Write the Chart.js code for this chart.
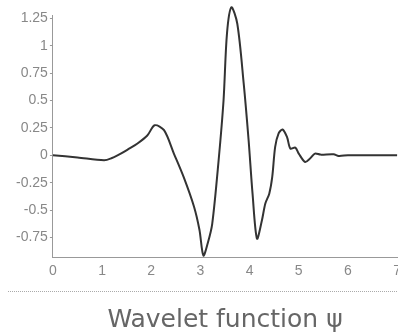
<!DOCTYPE html>
<html>
<head>
<meta charset="utf-8">
<script src="https://cdn.jsdelivr.net/npm/chart.js@4.4.1/dist/chart.umd.min.js"></script>
<style>
html,body{margin:0;padding:0;background:#fff;overflow:hidden;}
canvas{display:block;}
</style>
</head>
<body>
<canvas id="chart" width="407" height="335"></canvas>
<script>
// psi(x)
const xs = [0, 0.5, 1.04, 1.2, 1.38, 1.55, 1.72, 1.92, 2.07, 2.26, 2.46, 2.66, 2.87, 2.98, 3.06, 3.15, 3.24, 3.37, 3.47, 3.54, 3.63, 3.75, 3.88, 3.98, 4.06, 4.15, 4.25, 4.32, 4.40, 4.46, 4.52, 4.59, 4.67, 4.76, 4.83, 4.93, 5.0, 5.13, 5.23, 5.33, 5.44, 5.71, 5.81, 6, 6.5, 7];
const psi = [0, -0.02, -0.046, -0.025, 0.015, 0.06, 0.107, 0.18, 0.274, 0.229, 0.016, -0.2, -0.47, -0.68, -0.915, -0.8, -0.625, -0.046, 0.5, 1.11, 1.35, 1.2, 0.656, 0.137, -0.35, -0.76, -0.595, -0.44, -0.35, -0.2, 0.076, 0.2, 0.235, 0.167, 0.061, 0.07, 0.015, -0.061, -0.03, 0.015, 0.006, 0.009, -0.006, 0, 0, 0];
const xTicks = [0, 1, 2, 3, 4, 5, 6, 7];
const yTicks = [-0.75, -0.5, -0.25, 0, 0.25, 0.5, 0.75, 1, 1.25];

const points = xs.map((x, i) => ({x: x, y: psi[i]}));

const separator = {
    id: 'separator',
    afterDraw(chart){
        const ctx = chart.ctx;
        ctx.save();
        ctx.strokeStyle = '#aaa';
        ctx.lineWidth = 1;
        ctx.setLineDash([1, 1]);
        ctx.beginPath();
        ctx.moveTo(8, 291.5);
        ctx.lineTo(407, 291.5);
        ctx.stroke();
        ctx.restore();
    }
};

new Chart(document.getElementById('chart'), {
    type: 'line',
    data: {
        datasets: [{
            data: points,
            borderColor: '#333',
            borderWidth: 2,
            pointRadius: 0,
            tension: 0.3,
            clip: false
        }]
    },
    options: {
        responsive: false,
        animation: false,
        layout: {padding: {top: 15, left: 14, right: 0, bottom: 0}},
        plugins: {
            legend: {display: false},
            tooltip: {enabled: false},
            title: {
                display: true,
                text: 'Wavelet function ψ',
                position: 'bottom',
                fullSize: false,
                color: '#666',
                font: {family: 'DejaVu Sans', size: 25, weight: 'normal'},
                padding: {top: 19, bottom: 0}
            }
        },
        scales: {
            x: {
                type: 'linear',
                min: 0,
                max: 7,
                afterBuildTicks: axis => { axis.ticks = xTicks.map(v => ({value: v})); },
                grid: {drawOnChartArea: false, drawTicks: false},
                border: {display: true, color: '#999', dash: [1, 1]},
                ticks: {color: '#888', padding: 6, maxRotation: 0, font: {family: 'Liberation Sans', size: 14},
                    callback: v => String(v)}
            },
            y: {
                min: -0.93,
                max: 1.28,
                afterBuildTicks: axis => { axis.ticks = yTicks.map(v => ({value: v})); },
                grid: {drawOnChartArea: false, drawTicks: true, tickLength: 3, color: '#999'},
                border: {display: true, color: '#999', dash: [1, 1]},
                ticks: {color: '#888', padding: 2, font: {family: 'Liberation Sans', size: 14},
                    callback: v => String(v)}
            }
        }
    },
    plugins: [separator]
});
</script>
</body>
</html>
